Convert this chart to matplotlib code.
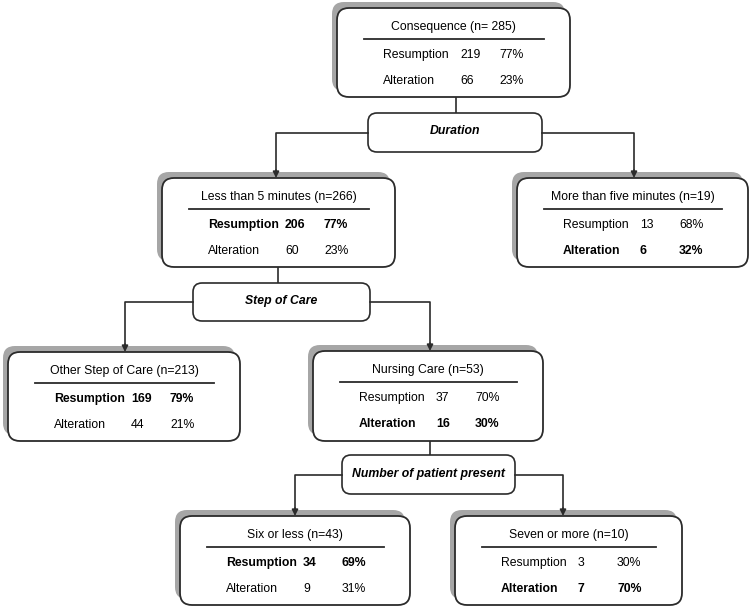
import matplotlib
matplotlib.use("Agg")
import matplotlib.pyplot as plt
from matplotlib.patches import FancyBboxPatch

plt.rcParams['font.family'] = ['Liberation Sans', 'DejaVu Sans']

# data
node_names = ["Consequence", "Less than 5 minutes", "More than five minutes",
              "Other Step of Care", "Nursing Care", "Six or less", "Seven or more"]
node_n = [285, 266, 19, 213, 53, 43, 10]
resumption = [219, 206, 13, 169, 37, 34, 3]
alteration = [66, 60, 6, 44, 16, 9, 7]
resumption_pct = [77, 77, 68, 79, 70, 69, 30]
alteration_pct = [23, 23, 32, 21, 30, 31, 70]
bold_row = [None, "res", "alt", "res", "alt", "res", "alt"]
split_names = ["Duration", "Step of Care", "Number of patient present"]

# layout (pixels): x0, y0, x1, y1
node_box = [(337, 8, 570, 97), (162, 178, 395, 267), (517, 178, 748, 267),
            (8, 352, 240, 441), (313, 351, 543, 441), (180, 516, 410, 605),
            (455, 516, 682, 605)]
split_box = [(368, 113, 542, 152), (193, 283, 370, 321), (342, 455, 515, 494)]
# split -> (parent node, left child, right child)
tree = [(0, 1, 2), (1, 3, 4), (4, 5, 6)]
arrow_x = [(276, 634), (125, 430), (295, 563)]
stem_x = [456, 278, 430]

LINE = "#2b2b2b"
SHADOW = "#a6a6a6"
FS = 8.8

fig = plt.figure(figsize=(7.51, 6.08), dpi=100)
ax = fig.add_axes([0, 0, 1, 1])
ax.set_xlim(0, 751)
ax.set_ylim(608, 0)
ax.axis("off")

for i, (x0, y0, x1, y1) in enumerate(node_box):
    w, h = x1 - x0, y1 - y0
    ax.add_patch(FancyBboxPatch((x0 - 5, y0 - 6), w, h, boxstyle="round,pad=0,rounding_size=12",
                                fc=SHADOW, ec="none", zorder=1))
    ax.add_patch(FancyBboxPatch((x0, y0), w, h, boxstyle="round,pad=0,rounding_size=12",
                                fc="white", ec=LINE, lw=1.3, zorder=2))
    sep = "= " if i == 0 else "="
    ax.text((x0 + x1) / 2, y0 + 19, f"{node_names[i]} (n{sep}{node_n[i]})", ha="center",
            va="center", fontsize=FS, zorder=3)
    ax.plot([x0 + 27, x1 - 26], [y0 + 31, y0 + 31], color=LINE, lw=1.3, zorder=3)
    rows = [("Resumption", resumption[i], resumption_pct[i], "res", 47),
            ("Alteration", alteration[i], alteration_pct[i], "alt", 73)]
    for lab, cnt, pct, key, dy in rows:
        fw = "bold" if bold_row[i] == key else "normal"
        ax.text(x0 + 46, y0 + dy, lab, ha="left", va="center", fontsize=FS, fontweight=fw, zorder=3)
        ax.text(x0 + 123, y0 + dy, str(cnt), ha="left", va="center", fontsize=FS, fontweight=fw, zorder=3)
        ax.text(x0 + 162, y0 + dy, f"{pct}%", ha="left", va="center", fontsize=FS, fontweight=fw, zorder=3)

for k, (x0, y0, x1, y1) in enumerate(split_box):
    ax.add_patch(FancyBboxPatch((x0, y0), x1 - x0, y1 - y0, boxstyle="round,pad=0,rounding_size=9",
                                fc="white", ec=LINE, lw=1.2, zorder=2))
    ym = (y0 + y1) / 2
    ax.text((x0 + x1) / 2, ym - 1, split_names[k], ha="center", va="center", fontsize=FS,
            fontweight="bold", fontstyle="italic", zorder=3)
    parent, left, right = tree[k]
    # stem from parent
    ax.plot([stem_x[k], stem_x[k]], [node_box[parent][3], y0], color=LINE, lw=1.2, zorder=1.5)
    # branches to children
    for side, child, xa in [(x0, left, arrow_x[k][0]), (x1, right, arrow_x[k][1])]:
        ytop = node_box[child][1]
        ax.plot([side, xa, xa], [ym, ym, ytop - 7], color=LINE, lw=1.2, zorder=3)
        ax.annotate("", xy=(xa, ytop), xytext=(xa, ytop - 8),
                    arrowprops=dict(arrowstyle="-|>", color=LINE, lw=1.2, mutation_scale=9,
                                    shrinkA=0, shrinkB=0), zorder=4)

fig.savefig("out.png", dpi=100)
